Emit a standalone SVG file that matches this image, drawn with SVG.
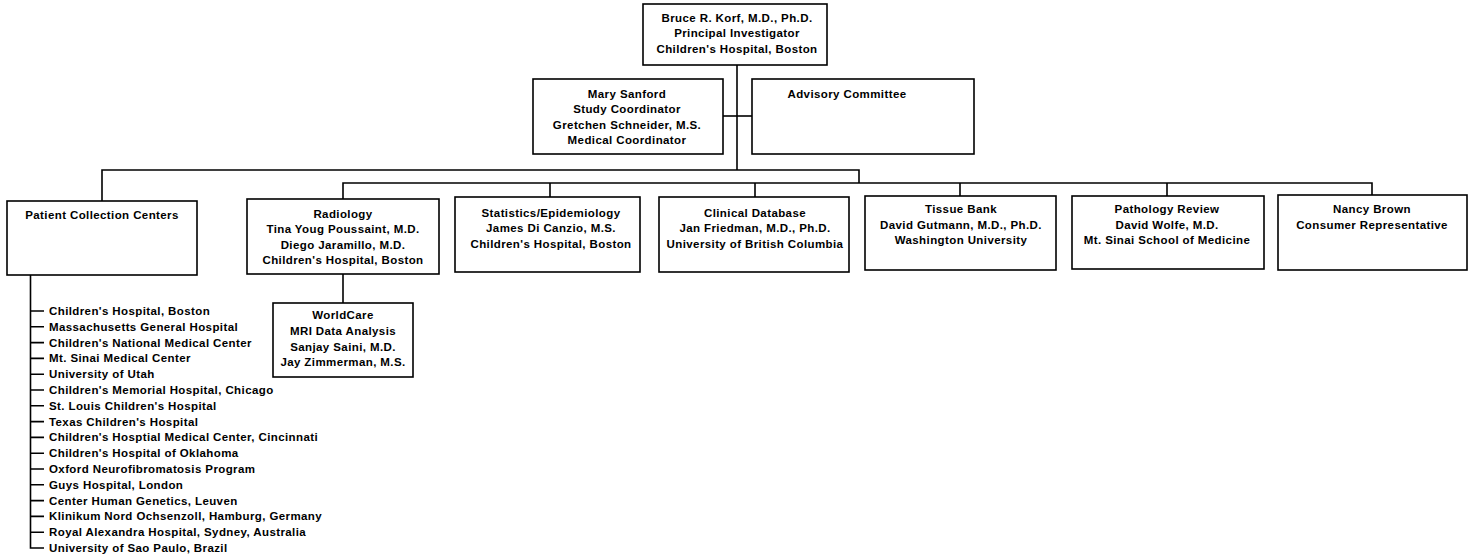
<svg xmlns="http://www.w3.org/2000/svg" width="1473" height="558" viewBox="0 0 1473 558">
<style>
.box{fill:#fff;stroke:#000;stroke-width:1.6}
.ln{fill:none;stroke:#000;stroke-width:1.6}
text{font-family:"Liberation Sans",Arial,sans-serif;font-weight:bold;font-size:11.5px;letter-spacing:0.4px;fill:#000}
.c{text-anchor:middle}
</style>
<rect width="1473" height="558" fill="#fff"/>
<g id="connectors">
<path class="ln" d="M737 65V170"/>
<path class="ln" d="M723 116H752"/>
<path class="ln" d="M102 201V170H859V183"/>
<path class="ln" d="M343 199V183H1372V195"/>
<path class="ln" d="M550 183V197M755 183V197M960 183V196M1167 183V196"/>
<path class="ln" d="M343 274V303"/>
<path class="ln" d="M30.5 275V548H44M30.5 311H44M30.5 326.8H44M30.5 342.6H44M30.5 358.4H44M30.5 374.2H44M30.5 390H44M30.5 405.8H44M30.5 421.6H44M30.5 437.4H44M30.5 453.2H44M30.5 469H44M30.5 484.8H44M30.5 500.6H44M30.5 516.4H44M30.5 532.2H44"/>
</g>
<g id="pi">
<rect class="box" x="643" y="4" width="184" height="61"/>
<text class="c" x="737" y="21.5">Bruce R. Korf, M.D., Ph.D.</text>
<text class="c" x="737" y="37">Principal Investigator</text>
<text class="c" x="737" y="52.5">Children's Hospital, Boston</text>
</g>
<g id="coordinator">
<rect class="box" x="533" y="79" width="190" height="75"/>
<text class="c" x="627" y="97.5">Mary Sanford</text>
<text class="c" x="627" y="113">Study Coordinator</text>
<text class="c" x="627" y="128.5">Gretchen Schneider, M.S.</text>
<text class="c" x="627" y="144">Medical Coordinator</text>
</g>
<g id="advisory">
<rect class="box" x="752" y="79" width="222" height="75"/>
<text class="c" x="847" y="97.5">Advisory Committee</text>
</g>
<g id="patient">
<rect class="box" x="7" y="201" width="190" height="74"/>
<text class="c" x="102" y="218.5">Patient Collection Centers</text>
</g>
<g id="radiology">
<rect class="box" x="247" y="199" width="192" height="75"/>
<text class="c" x="343" y="217.5">Radiology</text>
<text class="c" x="343" y="233">Tina Youg Poussaint, M.D.</text>
<text class="c" x="343" y="248.5">Diego Jaramillo, M.D.</text>
<text class="c" x="343" y="264">Children's Hospital, Boston</text>
</g>
<g id="worldcare">
<rect class="box" x="273" y="303" width="140" height="74"/>
<text class="c" x="343" y="319">WorldCare</text>
<text class="c" x="343" y="335">MRI Data Analysis</text>
<text class="c" x="343" y="350.5">Sanjay Saini, M.D.</text>
<text class="c" x="343" y="366">Jay Zimmerman, M.S.</text>
</g>
<g id="statistics">
<rect class="box" x="455" y="197" width="185" height="75"/>
<text class="c" x="551" y="216.5">Statistics/Epidemiology</text>
<text class="c" x="551" y="232">James Di Canzio, M.S.</text>
<text class="c" x="551" y="247.5">Children's Hospital, Boston</text>
</g>
<g id="database">
<rect class="box" x="659" y="197" width="190" height="75"/>
<text class="c" x="755" y="216.5">Clinical Database</text>
<text class="c" x="755" y="232">Jan Friedman, M.D., Ph.D.</text>
<text class="c" x="755" y="247.5">University of British Columbia</text>
</g>
<g id="tissue">
<rect class="box" x="865" y="196" width="191" height="74"/>
<text class="c" x="961" y="213">Tissue Bank</text>
<text class="c" x="961" y="228.5">David Gutmann, M.D., Ph.D.</text>
<text class="c" x="961" y="244">Washington University</text>
</g>
<g id="pathology">
<rect class="box" x="1072" y="196" width="192" height="73"/>
<text class="c" x="1167" y="213">Pathology Review</text>
<text class="c" x="1167" y="228.5">David Wolfe, M.D.</text>
<text class="c" x="1167" y="244">Mt. Sinai School of Medicine</text>
</g>
<g id="consumer">
<rect class="box" x="1278" y="195" width="189" height="75"/>
<text class="c" x="1372" y="213">Nancy Brown</text>
<text class="c" x="1372" y="228.5">Consumer Representative</text>
</g>
<g id="centers-list">
<text x="49" y="315">Children's Hospital, Boston</text>
<text x="49" y="330.8">Massachusetts General Hospital</text>
<text x="49" y="346.6">Children's National Medical Center</text>
<text x="49" y="362.4">Mt. Sinai Medical Center</text>
<text x="49" y="378.2">University of Utah</text>
<text x="49" y="394">Children's Memorial Hospital, Chicago</text>
<text x="49" y="409.8">St. Louis Children's Hospital</text>
<text x="49" y="425.6">Texas Children's Hospital</text>
<text x="49" y="441.4">Children's Hosptial Medical Center, Cincinnati</text>
<text x="49" y="457.2">Children's Hospital of Oklahoma</text>
<text x="49" y="473">Oxford Neurofibromatosis Program</text>
<text x="49" y="488.8">Guys Hospital, London</text>
<text x="49" y="504.6">Center Human Genetics, Leuven</text>
<text x="49" y="520.4">Klinikum Nord Ochsenzoll, Hamburg, Germany</text>
<text x="49" y="536.2">Royal Alexandra Hospital, Sydney, Australia</text>
<text x="49" y="552">University of Sao Paulo, Brazil</text>
</g>
</svg>
